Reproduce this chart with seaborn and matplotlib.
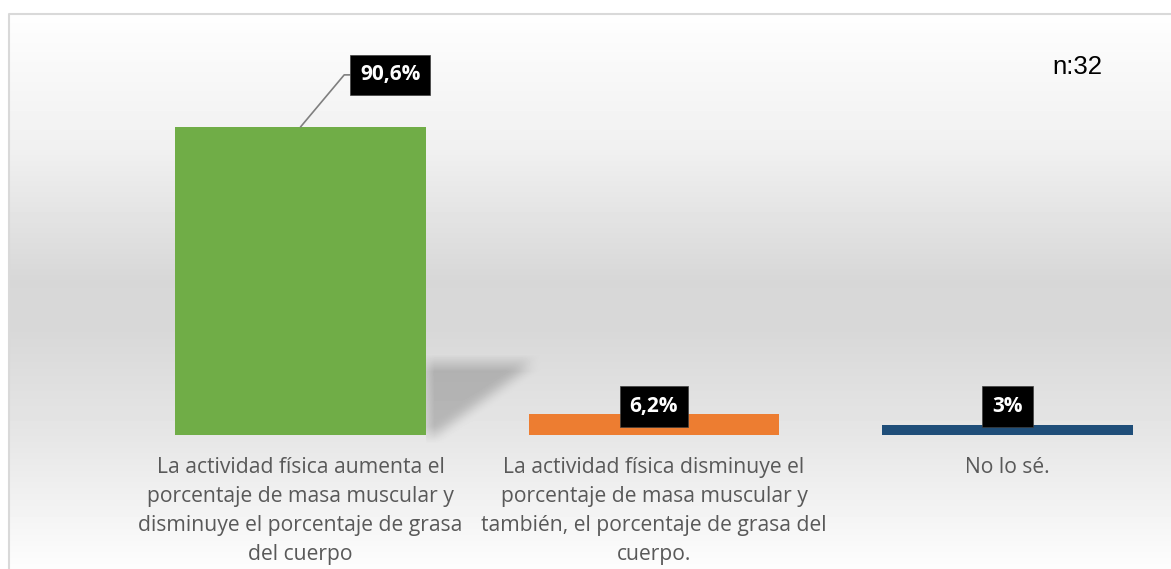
import numpy as np
import pandas as pd
import matplotlib
matplotlib.use("Agg")
import matplotlib.pyplot as plt
import seaborn as sns
from matplotlib.path import Path

## datos
categorias = [
    "La actividad física aumenta el\nporcentaje de masa muscular y\ndisminuye el porcentaje de grasa\ndel cuerpo",
    "La actividad física disminuye el\nporcentaje de masa muscular y\ntambién, el porcentaje de grasa del\ncuerpo.",
    "No lo sé.",
]
porcentajes = [90.6, 6.2, 3.0]
colores = ["#70AD47", "#ED7D31", "#1F4E79"]
muestra = "n:32"

W, H = 1171, 569
base_px = 435          # linea base de las barras (px desde arriba)
px_por_pct = 3.4

plt.rcParams["font.family"] = ["Open Sans", "DejaVu Sans"]

fig = plt.figure(figsize=(W / 100, H / 100), dpi=100)
fig.patch.set_facecolor("white")

# fondo con degradado
ax_bg = fig.add_axes([0, 0, 1, 1], zorder=0)
ax_bg.set_xlim(0, W)
ax_bg.set_ylim(H, 0)
ax_bg.axis("off")

# ejes principales
ax = fig.add_axes([0, (H - base_px) / H, 1, base_px / H], zorder=1)
ax.patch.set_alpha(0)

df = pd.DataFrame({"categoria": categorias, "porcentaje": porcentajes})
sns.barplot(data=df, x="categoria", y="porcentaje", hue="categoria",
            palette=colores, saturation=1, width=0.71, legend=False, ax=ax)

ax.set_xlim(-300.5 / 353.5, (W - 300.5) / 353.5)
ax.set_ylim(0, base_px / px_por_pct)
for s in ax.spines.values():
    s.set_visible(False)
ax.set_yticks([])
ax.set_xlabel(None)
ax.set_ylabel(None)
ax.tick_params(axis="x", length=0, pad=16, labelsize=15.2, labelcolor="#595959")
for t in ax.get_xticklabels():
    t.set_linespacing(1.5)

# degradado vertical
x0, y0 = 8, 13
nrows, ncols = H - y0, W - x0
filas = np.arange(nrows) + y0
gris = np.interp(filas, [13, 150, 280, 330, 435, 569], [254, 240, 215, 216, 230, 253])
img = np.tile(gris[:, None], (1, ncols)).astype(float)

# sombra de la primera barra
barra = ax.patches[0]
xr_d, yb_d = ax.transData.transform((barra.get_x() + barra.get_width(), 0))
_, yt_d = ax.transData.transform((0, barra.get_height()))
xr, yb = xr_d, H - yb_d
h = abs(yt_d - yb_d)
sombra = Path([(xr, yb), (xr, yb - 0.235 * h), (xr + 0.35 * h, yb - 0.235 * h),
               (xr + 0.03 * h, yb), (xr, yb)])
gx, gy = np.meshgrid(np.arange(ncols) + x0 + 0.5, filas + 0.5)
mask = sombra.contains_points(np.column_stack([gx.ravel(), gy.ravel()])).reshape(gx.shape).astype(float)
k = np.ones(17) / 17
mask = np.apply_along_axis(lambda r: np.convolve(r, k, mode="same"), 1, mask)
mask = np.apply_along_axis(lambda c: np.convolve(c, k, mode="same"), 0, mask)
mask[gx < xr] = 0
img = img * (1 - 0.2 * mask)

ax_bg.imshow(img, extent=[x0, W, H, y0], cmap="gray", vmin=0, vmax=255,
             aspect="auto", interpolation="bilinear")
ax_bg.plot([x0 + 0.5, x0 + 0.5, W], [H, y0 + 0.5, y0 + 0.5], color="#d9d9d9", lw=1.5)

# etiquetas de datos
caja = dict(boxstyle="square,pad=0.47", fc="black", ec="#404040", lw=0.5)
for i, v in enumerate(porcentajes):
    txt = f"{v:g}".replace(".", ",") + "%"
    if v > 50:
        ax.annotate(txt, xy=(i, v), xytext=(64.5, 37.5), textcoords="offset points",
                    ha="center", va="center", color="white", fontsize=15,
                    fontweight="bold", bbox=caja,
                    arrowprops=dict(arrowstyle="-", color="#7f7f7f", lw=1.2,
                                    shrinkA=0, shrinkB=0,
                                    connectionstyle="angle,angleA=0,angleB=50,rad=0"))
    else:
        ax.text(i, 8.4, txt, ha="center", va="center", color="white",
                fontsize=15, fontweight="bold", bbox=caja)

fig.text(1077 / W, 1 - 67 / H, muestra, ha="center", va="center",
         fontsize=18.5, family="Liberation Sans", color="black")

plt.savefig("out.png", dpi=100)
